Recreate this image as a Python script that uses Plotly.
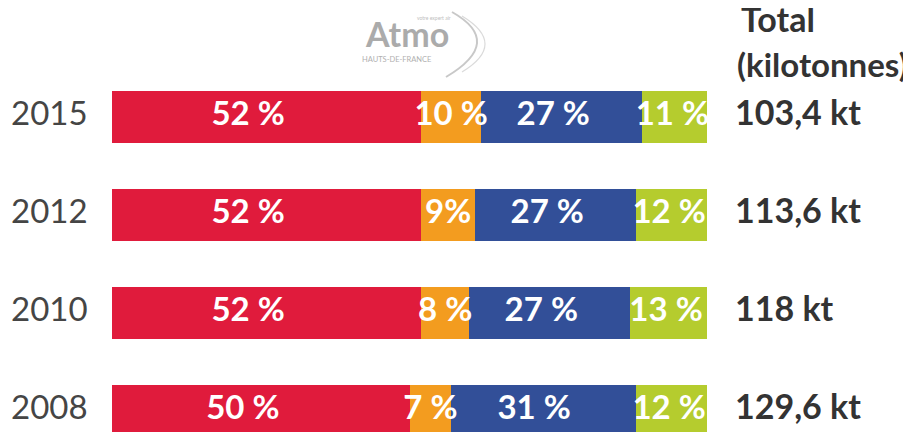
import plotly.graph_objects as go

years = ["2015", "2012", "2010", "2008"]
red_vals = [52, 52, 52, 50]
orange_vals = [10, 9, 8, 7]
blue_vals = [27, 27, 27, 31]
green_vals = [11, 12, 13, 12]
orange_labels = ["10 %", "9%", "8 %", "7 %"]
totals = ["103,4 kt", "113,6 kt", "118 kt", "129,6 kt"]

colors = ["#E01B3C", "#F39C1F", "#324F98", "#B5CC2E"]
FONT = "Lato"

# page body has an 8px margin: figure is placed at (8, 8) in the window
OFF = 8
W, H = 911 - OFF, 432 - OFF
BAR_L, BAR_R = 112, 707          # screen pixels of 0 % and 100 %
UNIT = (BAR_R - BAR_L) / 100.0   # pixels per percent
X_RANGE = [(OFF - BAR_L) / UNIT, (911 - BAR_L) / UNIT]


def px(sx):
    return (sx - OFF) / W


def py(sy):
    return 1 - (sy - OFF) / H


fig = go.Figure()
series = [
    (red_vals, [f"{v} %" for v in red_vals], 0.44),
    (orange_vals, orange_labels, 0.5),
    (blue_vals, [f"{v} %" for v in blue_vals], 0.45),
    (green_vals, [f"{v} %" for v in green_vals], 0.47),
]
base = [0] * len(years)
label_traces = []
for (vals, labels, frac), c in zip(series, colors):
    fig.add_trace(go.Bar(
        y=years, x=vals, orientation="h", marker=dict(color=c, line=dict(width=0)),
        width=0.53, hoverinfo="skip",
    ))
    label_traces.append(go.Scatter(
        y=years, x=[b + v * frac for b, v in zip(base, vals)], mode="text", text=labels,
        textposition="middle center", cliponaxis=False, hoverinfo="skip",
        textfont=dict(family=FONT, size=33, color="white", weight="bold"),
    ))
    base = [b + v for b, v in zip(base, vals)]
for t in label_traces:
    fig.add_trace(t)

# year labels (left) and totals (right)
fig.add_trace(go.Scatter(
    y=years, x=[-101 / UNIT] * len(years), mode="text", text=years,
    textposition="middle right", cliponaxis=False, hoverinfo="skip",
    textfont=dict(family=FONT, size=33, color="#454545"),
))
fig.add_trace(go.Scatter(
    y=years, x=[base[0] + 28 / UNIT] * len(years), mode="text", text=[f"<b>{t}</b>" for t in totals],
    textposition="middle right", cliponaxis=False, hoverinfo="skip",
    textfont=dict(family=FONT, size=34, color="#333333"),
))

fig.add_annotation(x=px(739), y=py(19), xref="paper", yref="paper", text="<b>Total</b>", showarrow=False,
                   xanchor="left", yanchor="middle", font=dict(family=FONT, size=34, color="#333333"))
fig.add_annotation(x=px(735), y=py(64), xref="paper", yref="paper", text="<b>(kilotonnes)</b>", showarrow=False,
                   xanchor="left", yanchor="middle", font=dict(family=FONT, size=33, color="#333333"))

# logo
fig.add_annotation(x=px(407), y=py(33), xref="paper", yref="paper", text="<b>Atmo</b>", showarrow=False,
                   xanchor="center", yanchor="middle", font=dict(family=FONT, size=34, color="#ababab"))
fig.add_annotation(x=px(396), y=py(60), xref="paper", yref="paper", text="HAUTS-DE-FRANCE", showarrow=False,
                   xanchor="center", yanchor="middle", font=dict(family=FONT, size=7.5, color="#b0b0b0"))
fig.add_annotation(x=px(434), y=py(18), xref="paper", yref="paper", text="votre expert air", showarrow=False,
                   xanchor="center", yanchor="middle", font=dict(family=FONT, size=5, color="#c0c0c0"))
fig.add_shape(type="path", xref="paper", yref="paper",
              path=f"M {px(452)},{py(12)} Q {px(505)},{py(42)} {px(446)},{py(77)}",
              line=dict(color="#c8c8c8", width=2))
fig.add_shape(type="path", xref="paper", yref="paper",
              path=f"M {px(462)},{py(16)} Q {px(508)},{py(44)} {px(462)},{py(72)}",
              line=dict(color="#dadada", width=1.2))

fig.update_layout(
    width=W, height=H, barmode="stack", showlegend=False,
    margin=dict(l=0, r=0, t=0, b=0, pad=0),
    paper_bgcolor="white", plot_bgcolor="white",
    xaxis=dict(range=X_RANGE, visible=False, fixedrange=True),
    yaxis=dict(type="category", categoryorder="array", categoryarray=years,
               range=[3 + (432 - 411) / 98, (OFF - 116.5) / 98], visible=False, fixedrange=True),
    bargap=0,
)
fig.write_html("out.html")
